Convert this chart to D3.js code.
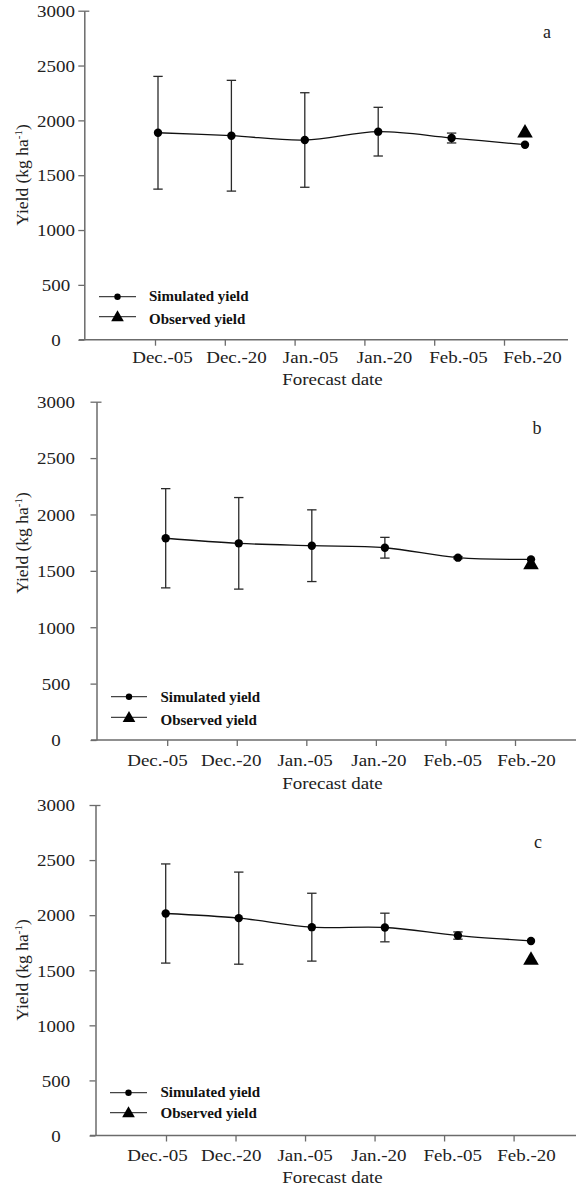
<!DOCTYPE html>
<html>
<head>
<meta charset="utf-8">
<script src="https://cdn.jsdelivr.net/npm/d3@7"></script>
<style>
body { margin: 0; background: #fff; }
svg { display: block; }
</style>
</head>
<body>
<svg id="chart" width="576" height="1186"></svg>
<script>
// data
var dates = ["Dec.-05", "Dec.-20", "Jan.-05", "Jan.-20", "Feb.-05", "Feb.-20"];
var yTicks = [0, 500, 1000, 1500, 2000, 2500, 3000];

var simA = [1887, 1860, 1821, 1897, 1839, 1778];
var sdA = [514, 505, 431, 222, 45, 0];
var obsA = 1905;

var simB = [1789, 1744, 1723, 1705, 1617, 1602];
var sdB = [440, 406, 318, 92, 10, 0];
var obsB = 1575;

var simC = [2015, 1973, 1891, 1888, 1815, 1766];
var sdC = [450, 418, 308, 130, 33, 0];
var obsC = 1612;

var legendLabels = ["Simulated yield", "Observed yield"];

// layout of the three stacked panels
var panels = [
    { letter: "a", sim: simA, sd: sdA, obs: obsA,
      axisX: 84.3, yTop: 10.7, yBot: 339.7, xStart: 79, xEnd: 568,
      tick: [155, 504], pt: [158, 525], lab: [162, 532], labY: 363, titleY: 385,
      yTitle: 175, letterX: 547, letterY: 38,
      leg: { x0: 99, x1: 136, y1: 296.7, y2: 316.7, tx: 149, b1: 301, b2: 324 } },
    { letter: "b", sim: simB, sd: sdB, obs: obsB,
      axisX: 96.5, yTop: 401.7, yBot: 740, xStart: 91, xEnd: 576,
      tick: [167.2, 515], pt: [165.7, 531], lab: [157, 526], labY: 766, titleY: 789,
      yTitle: 543, letterX: 537, letterY: 434,
      leg: { x0: 111, x1: 147, y1: 696.7, y2: 717.3, tx: 160.5, b1: 701.7, b2: 725 } },
    { letter: "c", sim: simC, sd: sdC, obs: obsC,
      axisX: 95.5, yTop: 805, yBot: 1135.5, xStart: 90, xEnd: 576,
      tick: [166, 513.6], pt: [165.7, 531], lab: [157, 526], labY: 1161, titleY: 1183,
      yTitle: 970, letterX: 538, letterY: 848,
      leg: { x0: 110, x1: 147, y1: 1092.7, y2: 1112.7, tx: 160.5, b1: 1096.7, b2: 1118.3 } }
];

var font = "'Liberation Serif', 'Times New Roman', serif";
var axisColor = "#6b6b6b";
var stretch = 1.15;
var fs = "16.5px";
var triSize = 105;
var triShift = Math.sqrt(triSize / (3 * Math.sqrt(3))) / 2;

var svg = d3.select("#chart");

panels.forEach(function (p) {
    var g = svg.append("g");

    var y = d3.scaleLinear().domain([0, 3000]).range([p.yBot, p.yTop]);
    var xPt = d3.scalePoint().domain(dates).range(p.pt);
    var xTick = d3.scalePoint().domain(dates).range(p.tick);
    var xLab = d3.scalePoint().domain(dates).range(p.lab);

    // y axis
    var yAxis = g.append("g")
        .attr("transform", "translate(" + p.axisX + ",0)")
        .call(d3.axisLeft(y).tickValues(yTicks).tickFormat(d3.format("d"))
            .tickSize(6).tickSizeOuter(0));
    yAxis.select(".domain").attr("stroke", axisColor).attr("stroke-width", 1.5);
    yAxis.selectAll(".tick line").attr("stroke", axisColor).attr("stroke-width", 1.3);
    yAxis.selectAll(".tick").filter(function (d) { return d === 3000; })
        .select("line").attr("x1", 5);
    yAxis.selectAll(".tick text")
        .attr("x", 0).attr("dy", "0.35em")
        .attr("text-anchor", "middle")
        .attr("transform", "translate(" + (56 - p.axisX) + ",0) scale(1.15,1)")
        .style("font-family", font).style("font-size", fs).attr("fill", "#222");

    // x axis line + tick marks
    g.append("line")
        .attr("x1", p.xStart).attr("x2", p.xEnd)
        .attr("y1", p.yBot).attr("y2", p.yBot)
        .attr("stroke", axisColor).attr("stroke-width", 1.5);
    var xTicks = g.append("g")
        .attr("transform", "translate(0," + p.yBot + ")")
        .call(d3.axisBottom(xTick).tickSize(6).tickSizeOuter(0).tickFormat(""));
    xTicks.select(".domain").remove();
    xTicks.selectAll(".tick line").attr("stroke", axisColor).attr("stroke-width", 1.3);

    // x labels
    var xLabels = g.append("g")
        .attr("transform", "translate(0," + p.yBot + ")")
        .call(d3.axisBottom(xLab).tickSize(0));
    xLabels.select(".domain").remove();
    xLabels.selectAll(".tick text")
        .attr("y", p.labY - p.yBot).attr("dy", null)
        .attr("transform", "scale(" + stretch + ",1)")
        .style("font-family", font).style("font-size", fs).attr("fill", "#222");

    // axis titles
    g.append("text")
        .attr("transform", "translate(332.5," + p.titleY + ") scale(" + stretch + ",1)")
        .attr("text-anchor", "middle")
        .style("font-family", font).style("font-size", fs).attr("fill", "#222")
        .text("Forecast date");

    var yt = g.append("text")
        .attr("transform", "translate(28," + p.yTitle + ") rotate(-90)")
        .attr("text-anchor", "middle")
        .style("font-family", font).style("font-size", "17.5px").attr("fill", "#222");
    yt.append("tspan").text("Yield (kg ha");
    yt.append("tspan").attr("dy", -6).style("font-size", "11px").text("-1");
    yt.append("tspan").attr("dy", 6).text(")");

    // panel letter
    g.append("text")
        .attr("x", p.letterX).attr("y", p.letterY)
        .attr("text-anchor", "middle")
        .style("font-family", font).style("font-size", "18px").attr("fill", "#222")
        .text(p.letter);

    // error bars
    var bars = g.selectAll(".err")
        .data(p.sim.map(function (m, i) { return { d: dates[i], m: m, s: p.sd[i] }; })
            .filter(function (e) { return e.s > 0; }))
        .enter().append("g").attr("class", "err")
        .attr("stroke", "#2a2a2a").attr("stroke-width", 1.3);
    bars.append("line")
        .attr("x1", function (e) { return xPt(e.d); })
        .attr("x2", function (e) { return xPt(e.d); })
        .attr("y1", function (e) { return y(e.m + e.s); })
        .attr("y2", function (e) { return y(e.m - e.s); });
    [1, -1].forEach(function (k) {
        bars.append("line")
            .attr("x1", function (e) { return xPt(e.d) - 4.7; })
            .attr("x2", function (e) { return xPt(e.d) + 4.7; })
            .attr("y1", function (e) { return y(e.m + k * e.s); })
            .attr("y2", function (e) { return y(e.m + k * e.s); });
    });

    // simulated line
    var line = d3.line()
        .x(function (d, i) { return xPt(dates[i]); })
        .y(function (d) { return y(d); })
        .curve(d3.curveCatmullRom.alpha(0.5));
    g.append("path")
        .datum(p.sim)
        .attr("d", line)
        .attr("fill", "none").attr("stroke", "#111").attr("stroke-width", 1.3);

    g.selectAll(".pt")
        .data(p.sim)
        .enter().append("circle")
        .attr("class", "pt")
        .attr("cx", function (d, i) { return xPt(dates[i]); })
        .attr("cy", function (d) { return y(d); })
        .attr("r", 4.2)
        .attr("fill", "#000");

    // observed
    g.append("path")
        .attr("d", d3.symbol(d3.symbolTriangle, triSize)())
        .attr("transform", "translate(" + xPt(dates[5]) + "," + (y(p.obs) + triShift) + ")")
        .attr("fill", "#000");

    // legend
    var L = p.leg;
    var cx = (L.x0 + L.x1) / 2;
    [L.y1, L.y2].forEach(function (ly) {
        g.append("line")
            .attr("x1", L.x0).attr("x2", L.x1).attr("y1", ly).attr("y2", ly)
            .attr("stroke", "#444").attr("stroke-width", 1.3);
    });
    g.append("circle").attr("cx", cx).attr("cy", L.y1).attr("r", 3.2).attr("fill", "#000");
    g.append("path")
        .attr("d", d3.symbol(d3.symbolTriangle, 70)())
        .attr("transform", "translate(" + cx + "," + (L.y2 + 1) + ")")
        .attr("fill", "#000");
    g.selectAll(".legtext")
        .data(legendLabels)
        .enter().append("text")
        .attr("x", L.tx)
        .attr("y", function (d, i) { return i === 0 ? L.b1 : L.b2; })
        .style("font-family", font).style("font-size", "15px").style("font-weight", "bold")
        .attr("fill", "#111")
        .text(function (d) { return d; });
});
</script>
</body>
</html>
